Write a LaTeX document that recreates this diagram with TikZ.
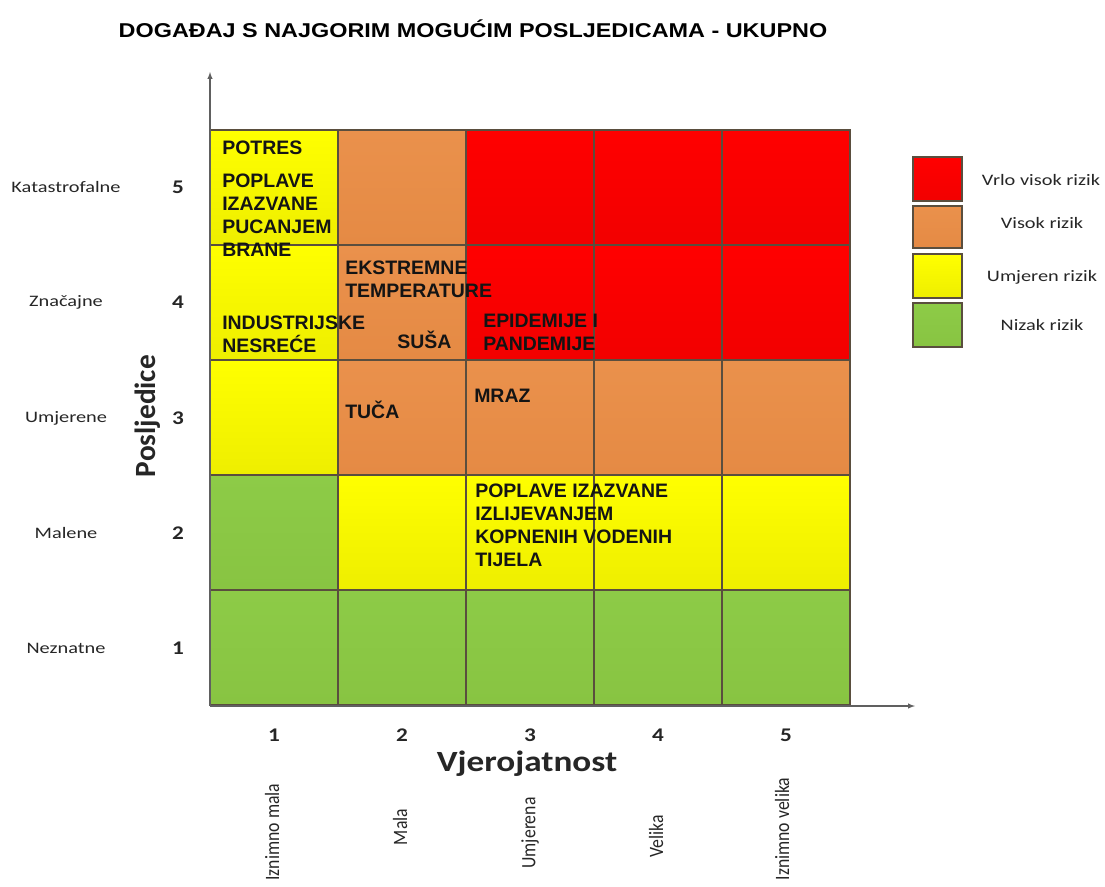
\documentclass[tikz,border=0pt]{standalone}
\usepackage{fontspec}
\usepackage{graphicx}
\setmainfont{Liberation Sans}
\newfontfamily\calfont{Carlito}
\definecolor{cred}{HTML}{FF0000}
\definecolor{credb}{HTML}{F20000}
\definecolor{cora}{HTML}{EA914C}
\definecolor{corab}{HTML}{E58A44}
\definecolor{cyel}{HTML}{FFFF00}
\definecolor{cyelb}{HTML}{EEEE00}
\definecolor{cgrn}{HTML}{8DCB47}
\definecolor{cgrnb}{HTML}{88C442}
\definecolor{gridc}{HTML}{5A4E3E}
\definecolor{axisc}{HTML}{606060}
\definecolor{lbl}{HTML}{262626}
\tikzset{
  cellR/.style={draw=gridc,line width=1.1pt,top color=cred,bottom color=credb},
  cellO/.style={draw=gridc,line width=1.1pt,top color=cora,bottom color=corab},
  cellY/.style={draw=gridc,line width=1.1pt,top color=cyel,bottom color=cyelb},
  cellG/.style={draw=gridc,line width=1.1pt,top color=cgrn,bottom color=cgrnb},
  celltext/.style={font=\fontsize{14.6}{17.2}\selectfont\bfseries,text=black!92,align=left,anchor=north west,inner sep=0pt},
  sidelbl/.style={font=\calfont\fontsize{12}{14}\selectfont,text=lbl},
  numlbl/.style={font=\calfont\bfseries\fontsize{14.5}{16}\selectfont,text=lbl},
  axlbl/.style={font=\calfont\bfseries\fontsize{22}{24}\selectfont,text=lbl},
  botlbl/.style={font=\calfont\fontsize{13.3}{15}\selectfont,text=lbl,rotate=90},
  leglbl/.style={font=\calfont\fontsize{12}{14}\selectfont,text=lbl},
  axis/.style={draw=axisc,line width=0.8pt,-latex}
}
\newcommand{\xs}[2]{\scalebox{#1}[1]{#2}}
\begin{document}
\begin{tikzpicture}[x=0.75pt,y=-0.75pt]
\useasboundingbox (0,0) rectangle (1105,886);
% cells
\foreach \r/\cs in {0/{Y,O,R,R,R},1/{Y,O,R,R,R},2/{Y,O,O,O,O},3/{G,Y,Y,Y,Y},4/{G,G,G,G,G}}{
  \foreach \c [count=\i from 0] in \cs {
    \path[cell\c] ({210+128*\i},{130+115*\r}) rectangle ({338+128*\i},{245+115*\r});
  }
}
% axes
\coordinate (o) at (210,706);
\coordinate (ytip) at (210,72);
\coordinate (xtip) at (915,706);
\draw[axis] (o) -- (ytip);
\draw[axis] (o) -- (xtip);
% title
\node[font=\fontsize{15}{18}\selectfont\bfseries] (title) at (473,29) {\xs{1.17}{DOGAĐAJ S NAJGORIM MOGUĆIM POSLJEDICAMA - UKUPNO}};
% cell texts
\node[celltext] (t1) at (222,141) {POTRES};
\node[celltext] (t2) at (222,174) {POPLAVE\\IZAZVANE\\PUCANJEM\\BRANE};
\node[celltext] (t3) at (345,261) {EKSTREMNE\\TEMPERATURE};
\node[celltext] (t4) at (222,316) {INDUSTRIJSKE\\NESREĆE};
\node[celltext] (t5) at (397,331) {SUŠA};
\node[celltext] (t6) at (483,314) {EPIDEMIJE I\\PANDEMIJE};
\node[celltext] (t7) at (345,401) {TUČA};
\node[celltext] (t8) at (474,389) {MRAZ};
\node[celltext] (t9) at (475,484) {POPLAVE IZAZVANE\\IZLIJEVANJEM\\KOPNENIH VODENIH\\TIJELA};
% side labels
\foreach \t/\y [count=\k] in {Katastrofalne/187,Značajne/302,Umjerene/418,Malene/533,Neznatne/648}{
  \node[sidelbl] (s\k) at (66,\y) {\xs{1.27}{\t}};
}
\foreach \n/\y in {5/187,4/302,3/418,2/533,1/648}{
  \node[numlbl] (n\n) at (178,\y) {\xs{1.2}{\n}};
}
\node[axlbl,rotate=90] (ylab) at (148,416) {Posljedice};
% bottom
\foreach \n/\x in {1/274,2/402,3/530,4/658,5/786}{
  \node[numlbl] (b\n) at (\x,735) {\xs{1.2}{\n}};
}
\node[axlbl] (xlab) at (527,764) {\xs{1.2}{Vjerojatnost}};
\node[botlbl] (p1) at (272,832) {\scalebox{1}[1.15]{Iznimno mala}};
\node[botlbl] (p2) at (400,827) {\scalebox{1}[1.15]{Mala}};
\node[botlbl] (p3) at (530,833) {\scalebox{1}[1.15]{Umjerena}};
\node[botlbl] (p4) at (656,836) {\scalebox{1}[1.15]{Velika}};
\node[botlbl] (p5) at (782,829) {\scalebox{1}[1.15]{Iznimno velika}};
% legend
\path[cellR] (913,157) rectangle (962,201);
\path[cellO] (913,206) rectangle (962,248);
\path[cellY] (913,254) rectangle (962,298);
\path[cellG] (913,303) rectangle (962,347);
\node[leglbl] (l1) at (1041,180) {\xs{1.27}{Vrlo visok rizik}};
\node[leglbl] (l2) at (1042,223) {\xs{1.27}{Visok rizik}};
\node[leglbl] (l3) at (1042,277) {\xs{1.27}{Umjeren rizik}};
\node[leglbl] (l4) at (1042,325) {\xs{1.27}{Nizak rizik}};
\end{tikzpicture}
\end{document}
